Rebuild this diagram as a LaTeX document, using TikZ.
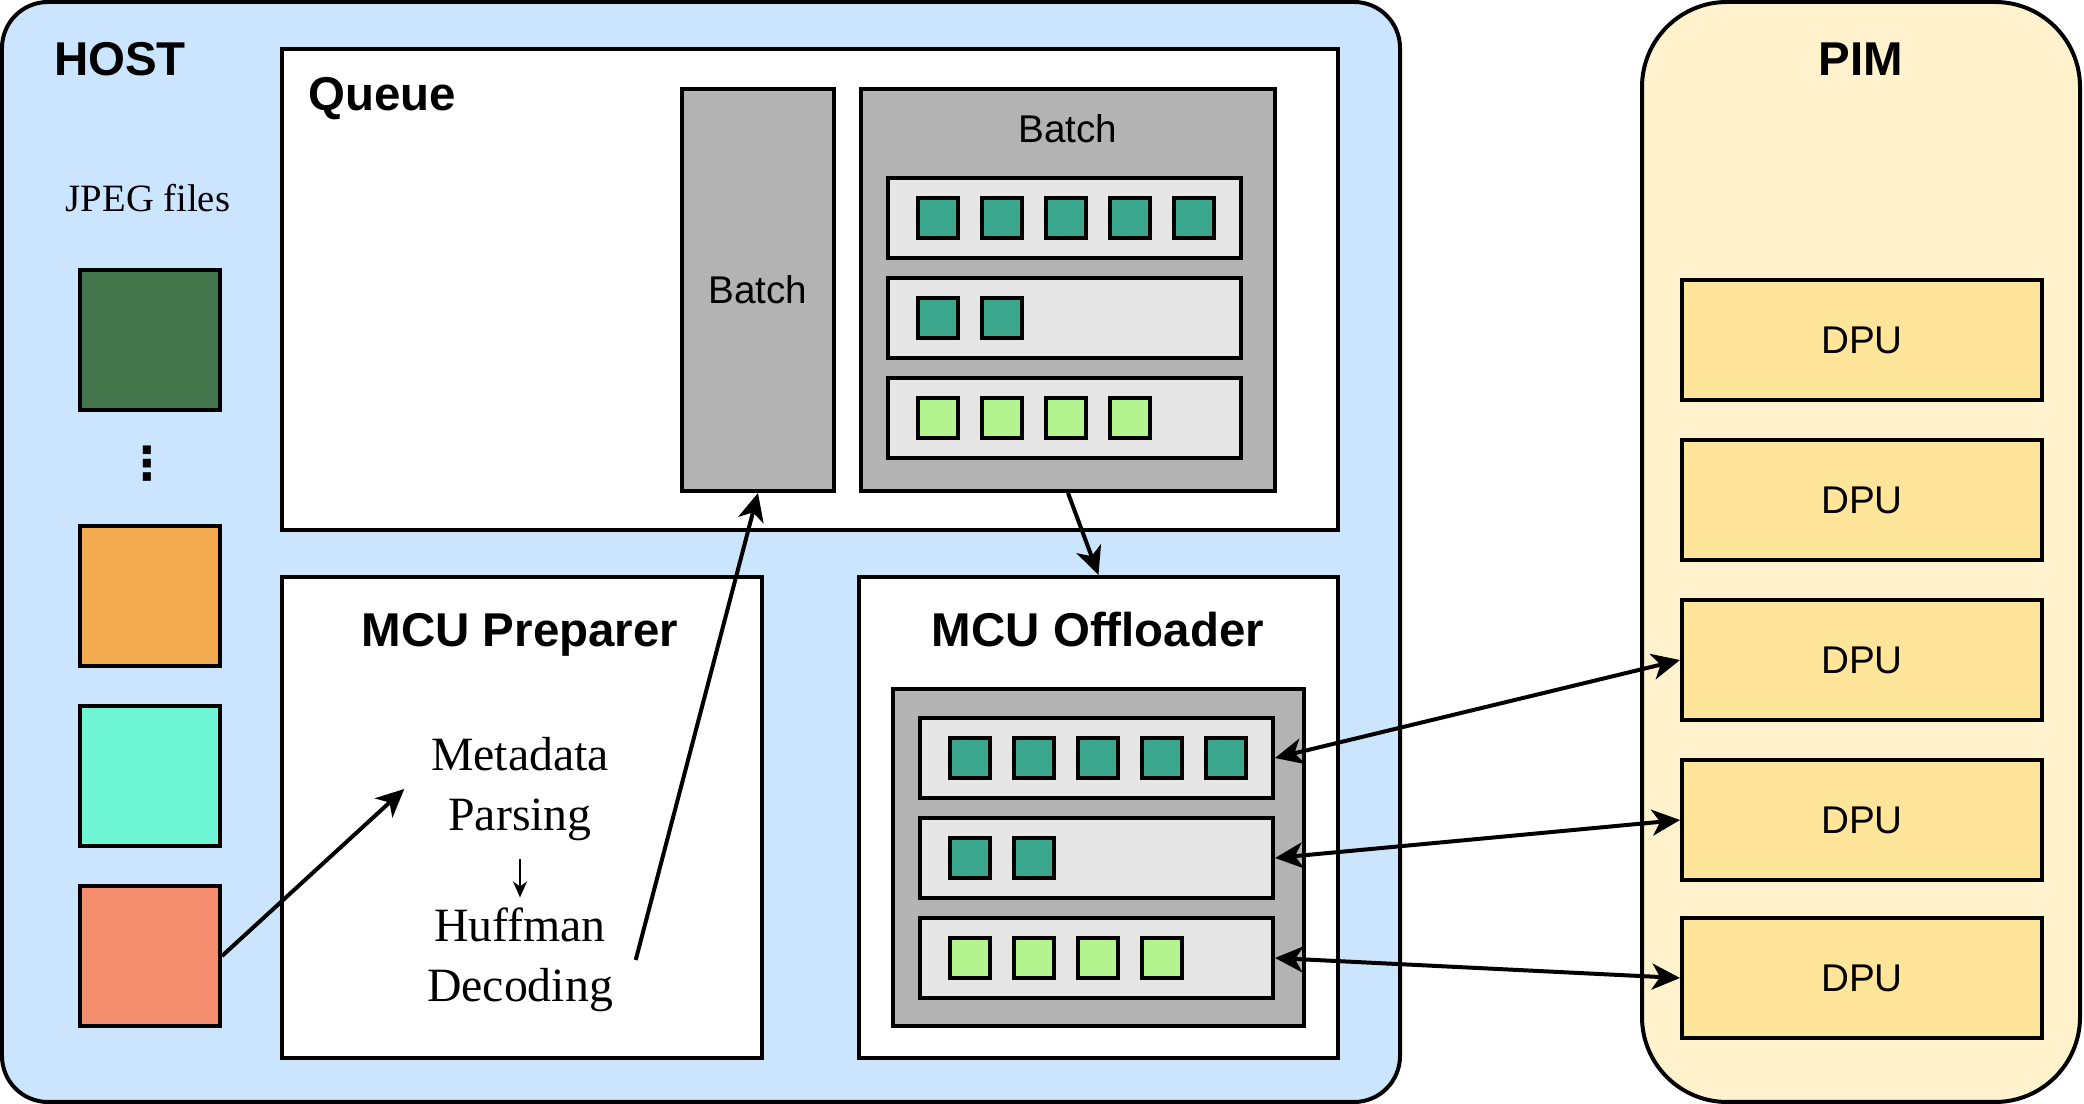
\documentclass[tikz,border=0pt]{standalone}
\usepackage{fontspec}
\setmainfont{Liberation Serif}
\setsansfont{Liberation Sans}
\newfontfamily\dotsfont{DejaVu Sans}
\usetikzlibrary{arrows.meta}
\definecolor{hostblue}{HTML}{CCE5FF}
\definecolor{pimyellow}{HTML}{FFF2CC}
\definecolor{dpuyellow}{HTML}{FFE599}
\definecolor{batchgray}{HTML}{B3B3B3}
\definecolor{rowgray}{HTML}{E6E6E6}
\definecolor{mcuteal}{HTML}{3AA68B}
\definecolor{mculime}{HTML}{B4F48F}
\definecolor{jpgdark}{HTML}{44764C}
\definecolor{jpgorange}{HTML}{F4AB50}
\definecolor{jpgaqua}{HTML}{6FF7D5}
\definecolor{jpgsalmon}{HTML}{F48E6F}
\begin{document}
\begin{tikzpicture}[y=-1cm,
  box/.style={draw,line width=0.04cm,inner sep=0pt},
  sq/.style={box,minimum width=0.4cm,minimum height=0.4cm},
  rowbox/.style={box,fill=rowgray,minimum width=3.53cm,minimum height=0.8cm},
  dpu/.style={box,fill=dpuyellow,minimum width=3.6cm,minimum height=1.2cm,font=\fontsize{11}{13}\selectfont\sffamily},
  jpg/.style={box,minimum width=1.4cm,minimum height=1.4cm},
  title/.style={anchor=base,inner sep=0pt,font=\fontsize{13.5}{16}\selectfont\sffamily\bfseries},
  lbl/.style={anchor=base,inner sep=0pt,font=\fontsize{11}{13}\selectfont\sffamily},
  steps/.style={align=center,text width=2.3cm,inner sep=0pt,font=\fontsize{13.6}{17}\selectfont},
  arr/.style={-{Stealth[length=0.28cm,width=0.26cm,inset=0.08cm]},line width=0.04cm},
  darr/.style={{Stealth[length=0.28cm,width=0.26cm,inset=0.08cm]}-{Stealth[length=0.28cm,width=0.26cm,inset=0.08cm]},line width=0.04cm}]
\useasboundingbox (0,0) rectangle (20.84,11.04);

% host side
\node[box,fill=hostblue,rounded corners=0.46cm,minimum width=13.98cm,minimum height=11cm] (host) at (7.01,5.52) {};
\node[title] (hostlbl) at (1.2,0.76) {HOST};
\node[lbl,font=\fontsize{11}{13}\selectfont\rmfamily] (jpglbl) at (1.48,2.12) {JPEG files};
\node[jpg,fill=jpgdark] (jpg1) at (1.5,3.4) {};
\node[font=\fontsize{13}{15}\selectfont\dotsfont\bfseries] (dots) at (1.47,4.64) {⋮};
\node[jpg,fill=jpgorange] (jpg2) at (1.5,5.96) {};
\node[jpg,fill=jpgaqua] (jpg3) at (1.5,7.76) {};
\node[jpg,fill=jpgsalmon] (jpg4) at (1.5,9.56) {};

% queue
\node[box,fill=white,minimum width=10.56cm,minimum height=4.81cm] (queue) at (8.1,2.895) {};
\node[title,anchor=base west] (queuelbl) at (3.08,1.11) {Queue};
\node[box,fill=batchgray,minimum width=1.52cm,minimum height=4.02cm] (vbatch) at (7.58,2.9) {};
\node[lbl] (vbatchlbl) at (7.58,3.04) {Batch};
\node[box,fill=batchgray,minimum width=4.14cm,minimum height=4.02cm] (bigbatch) at (10.68,2.9) {};
\node[lbl] (bigbatchlbl) at (10.68,1.43) {Batch};
\foreach \r/\y in {1/2.18,2/3.18,3/4.18}
  \node[rowbox] (qrow\r) at (10.645,\y) {};
\foreach \k in {0,...,4}
  \node[sq,fill=mcuteal] (qa\k) at (9.38+0.64*\k,2.18) {};
\foreach \k in {0,1}
  \node[sq,fill=mcuteal] (qb\k) at (9.38+0.64*\k,3.18) {};
\foreach \k in {0,...,3}
  \node[sq,fill=mculime] (qc\k) at (9.38+0.64*\k,4.18) {};

% mcu preparer
\node[box,fill=white,minimum width=4.8cm,minimum height=4.81cm] (prep) at (5.22,8.175) {};
\node[title] (preplbl) at (5.2,6.47) {MCU Preparer};
\node[steps] (meta) at (5.2,7.89) {Metadata\\Parsing};
\node[steps] (huff) at (5.2,9.6) {Huffman\\Decoding};
\draw[-{Stealth[length=0.16cm,width=0.14cm]},line width=0.025cm,shorten <=0.18cm,shorten >=0.1cm] (meta) -- (huff);

% mcu offloader
\node[box,fill=white,minimum width=4.79cm,minimum height=4.81cm] (offl) at (10.985,8.175) {};
\node[title] (offllbl) at (10.98,6.47) {MCU Offloader};
\node[box,fill=batchgray,minimum width=4.11cm,minimum height=3.37cm] (obatch) at (10.985,8.575) {};
\foreach \r/\y in {1/7.58,2/8.58,3/9.58}
  \node[rowbox] (orow\r) at (10.965,\y) {};
\foreach \k in {0,...,4}
  \node[sq,fill=mcuteal] (oa\k) at (9.7+0.64*\k,7.58) {};
\foreach \k in {0,1}
  \node[sq,fill=mcuteal] (ob\k) at (9.7+0.64*\k,8.58) {};
\foreach \k in {0,...,3}
  \node[sq,fill=mculime] (oc\k) at (9.7+0.64*\k,9.58) {};

% pim side
\node[box,fill=pimyellow,rounded corners=0.85cm,minimum width=4.38cm,minimum height=11cm] (pim) at (18.61,5.52) {};
\node[title] (pimlbl) at (18.61,0.76) {PIM};
\foreach \i/\y in {1/3.4,2/5,3/6.6,4/8.2,5/9.78}
  \node[dpu] (dpu\i) at (18.62,\y) {DPU};

% arrows
\draw[arr] (jpg4.east) -- (meta.west);
\draw[arr] (huff.east) -- (vbatch.south);
\draw[arr] (bigbatch.south) -- (offl.north);
\draw[darr] (orow1.east) -- (dpu3.west);
\draw[darr] (orow2.east) -- (dpu4.west);
\draw[darr] (orow3.east) -- (dpu5.west);
\end{tikzpicture}
\end{document}
